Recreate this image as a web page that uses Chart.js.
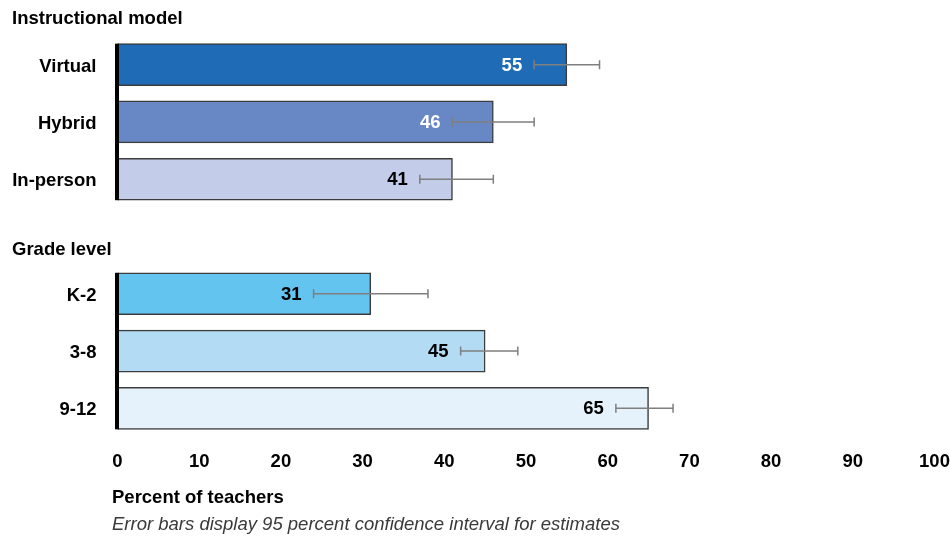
<!DOCTYPE html>
<html>
<head>
<meta charset="utf-8">
<script src="https://cdn.jsdelivr.net/npm/chart.js@4"></script>
<style>
  html, body { margin: 0; padding: 0; background: #ffffff; }
  #wrap { width: 950px; height: 540px; position: relative; }
</style>
</head>
<body>
<div id="wrap"><canvas id="c" width="950" height="540"></canvas></div>
<script>
// ---- data ----
const categories = ["Virtual", "Hybrid", "In-person", "", "K-2", "3-8", "9-12"];
const values     = [55, 46, 41, null, 31, 45, 65];
const errLow     = [51, 41, 37, null, 24, 42, 61];
const errHigh    = [59, 51, 46, null, 38, 49, 68];
const barColors  = ["#1f6bb6", "#6888c5", "#c3cce8", "rgba(0,0,0,0)", "#63c4ef", "#b3dcf4", "#e6f2fb"];
const labelColors = ["#ffffff", "#ffffff", "#000000", "#000000", "#000000", "#000000", "#000000"];
const groupTitles = ["Instructional model", "Grade level"];
const groupStart  = [0, 4];
const groupEnd    = [2, 6];
const xTicks = [0, 10, 20, 30, 40, 50, 60, 70, 80, 90, 100];
const axisTitle = "Percent of teachers";
const noteText = "Error bars display 95 percent confidence interval for estimates";

const FONT = "'Liberation Sans', Arial, sans-serif";
const FS = 18.5;

const extrasPlugin = {
  id: 'extras',
  afterDatasetsDraw(chart) {
    const ctx = chart.ctx;
    const xs = chart.scales.x, ys = chart.scales.y;
    const meta = chart.getDatasetMeta(0);
    ctx.save();
    // error bars
    ctx.strokeStyle = '#7f7f7f';
    ctx.lineWidth = 1.5;
    for (let i = 0; i < values.length; i++) {
      if (values[i] == null) continue;
      const y = ys.getPixelForValue(i);
      const x1 = xs.getPixelForValue(errLow[i]);
      const x2 = xs.getPixelForValue(errHigh[i]);
      ctx.beginPath();
      ctx.moveTo(x1, y); ctx.lineTo(x2, y);
      ctx.moveTo(x1, y - 4.5); ctx.lineTo(x1, y + 4.5);
      ctx.moveTo(x2, y - 4.5); ctx.lineTo(x2, y + 4.5);
      ctx.stroke();
    }
    // value labels
    ctx.font = "bold " + FS + "px " + FONT;
    ctx.textAlign = 'right';
    ctx.textBaseline = 'middle';
    for (let i = 0; i < values.length; i++) {
      if (values[i] == null) continue;
      const y = ys.getPixelForValue(i);
      const x1 = xs.getPixelForValue(errLow[i]);
      ctx.fillStyle = labelColors[i];
      ctx.fillText(String(values[i]), x1 - 12, y + 1);
    }
    // thick axis line per group
    ctx.fillStyle = '#000000';
    for (let g = 0; g < groupTitles.length; g++) {
      const top = meta.data[groupStart[g]].y - meta.data[groupStart[g]].height / 2;
      const bot = meta.data[groupEnd[g]].y + meta.data[groupEnd[g]].height / 2;
      const x0 = xs.getPixelForValue(0);
      ctx.fillRect(x0 - 2.5, top, 4, bot - top);
    }
    // group headings
    ctx.font = "bold " + FS + "px " + FONT;
    ctx.textAlign = 'left';
    ctx.fillStyle = '#000000';
    const headOffsets = [46, 44];
    for (let g = 0; g < groupTitles.length; g++) {
      const y = ys.getPixelForValue(groupStart[g]) - headOffsets[g];
      ctx.fillText(groupTitles[g], 12, y);
    }
    // axis title & note
    ctx.textBaseline = 'alphabetic';
    ctx.font = "bold " + FS + "px " + FONT;
    ctx.fillText(axisTitle, 112, 503);
    ctx.font = "italic " + FS + "px " + FONT;
    ctx.fillStyle = '#3a3a3a';
    ctx.fillText(noteText, 112, 530);
    ctx.restore();
  }
};

new Chart(document.getElementById('c'), {
  type: 'bar',
  data: {
    labels: categories,
    datasets: [{
      data: values,
      backgroundColor: barColors,
      borderColor: '#3c3c3c',
      borderWidth: 1.5,
      borderSkipped: false,
      barThickness: 42
    }]
  },
  options: {
    indexAxis: 'y',
    responsive: false,
    devicePixelRatio: 1,
    animation: false,
    layout: { padding: { top: 36, left: 0, right: 0, bottom: 0 } },
    plugins: {
      legend: { display: false },
      tooltip: { enabled: false },
      title: { display: false }
    },
    scales: {
      x: {
        type: 'linear',
        min: 0, max: 100,
        afterBuildTicks(scale) { scale.ticks = xTicks.map(v => ({ value: v })); },
        afterFit(scale) { scale.height = 103; scale.paddingRight = 15.5; scale.paddingLeft = 0; },
        grid: { display: false, drawTicks: false },
        border: { display: false },
        ticks: { font: { family: FONT, size: FS, weight: 'bold' }, color: '#000000', padding: 14, maxRotation: 0 }
      },
      y: {
        type: 'category',
        afterFit(scale) { scale.width = 117.5; },
        grid: { display: false, drawTicks: false },
        border: { display: false },
        ticks: { font: { family: FONT, size: FS, weight: 'bold' }, color: '#000000', padding: 21, labelOffset: 2 }
      }
    }
  },
  plugins: [extrasPlugin]
});
</script>
</body>
</html>
